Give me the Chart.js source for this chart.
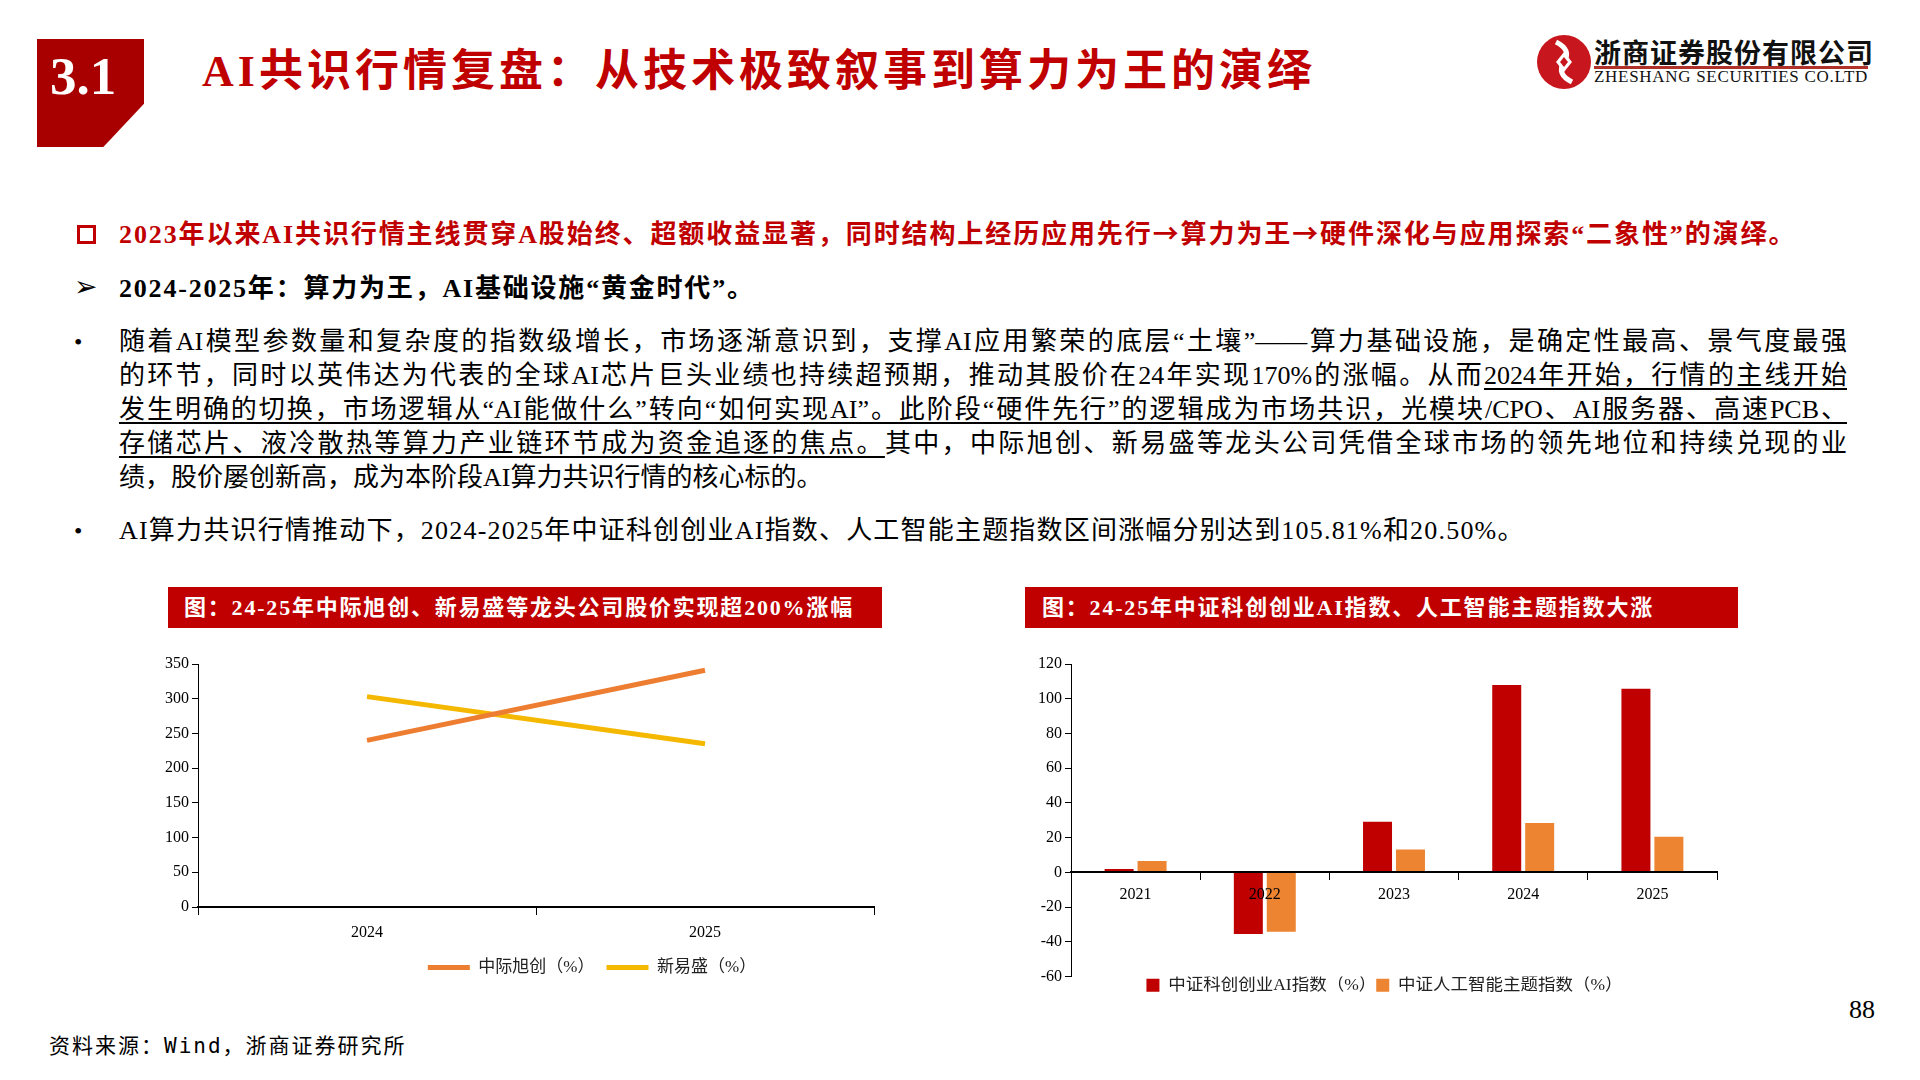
<!DOCTYPE html>
<html>
<head>
<meta charset="utf-8">
<script src="https://cdn.jsdelivr.net/npm/chart.js@4.4.1/dist/chart.umd.min.js"></script>
<style>
  body { margin: 0; background: #fff; }
  #page { position: relative; width: 1920px; height: 1080px; overflow: hidden; background: #fff;
          font-family: "Liberation Serif", "Noto Sans CJK SC", serif; color: #000; }
  .abs { position: absolute; white-space: nowrap; }
  #secBox { left: 37px; top: 39px; width: 107px; height: 108px; background: #A80000;
            clip-path: polygon(0 0, 100% 0, 100% 60%, 62% 100%, 0 100%); }
  #secNum { left: 37px; top: 46px; width: 92px; text-align: center; color: #fff; font-size: 53px; font-weight: bold; }
  #title { left: 202px; top: 35px; color: #C00000; font-size: 44px; font-weight: bold; letter-spacing: 4px; }
  #logoCn { left: 1594px; top: 32px; font-size: 27px; font-weight: bold; color: #111; letter-spacing: 1px; }
  #logoLine { left: 1594px; top: 66px; width: 274px; height: 3px; background: #B0302A; }
  #logoEn { left: 1594px; top: 67px; font-size: 17px; color: #111; letter-spacing: 0.7px; }
  .cjk { font-family: "Noto Sans CJK SC", sans-serif; }
  #l1 { left: 119px; top: 213px; font-size: 26px; color: #C00000; font-weight: bold; letter-spacing: 1.9px; }
  #chk { left: 77px; top: 225px; width: 13px; height: 13px; border: 3px solid #C00000; }
  #l2 { left: 119px; top: 267px; font-size: 26px; font-weight: bold; letter-spacing: 1.8px; }
  #arrow { left: 74px; top: 270px; font-size: 28px; font-family: "DejaVu Sans", sans-serif; }
  .dot { font-size: 24px; }
  #para { position: absolute; left: 119px; top: 325px; width: 1728px; font-size: 26px; line-height: 34px; }
  #para div { text-align: justify; text-align-last: justify; white-space: nowrap; }
  #para div.last { text-align-last: left; }
  #para u { text-decoration-thickness: 2px; text-underline-offset: 4px; }
  #l3 { left: 119px; top: 509px; font-size: 26px; letter-spacing: 1.2px; }
  .banner { position: absolute; top: 587px; height: 41px; background: #C00000; color: #fff;
            font-size: 22px; font-weight: bold; line-height: 41px; letter-spacing: 1.8px; white-space: nowrap; }
  #src { left: 49px; top: 1029px; font-size: 21px; letter-spacing: 2px;
         font-family: "DejaVu Sans Mono", "Noto Sans CJK SC", monospace; }
  #pg { left: 1849px; top: 995px; font-size: 26px; }
  canvas { position: absolute; }
</style>
</head>
<body>
<div id="page">
  <div class="abs" id="secBox"></div>
  <div class="abs" id="secNum">3.1</div>
  <div class="abs" id="title">AI共识行情复盘：从技术极致叙事到算力为王的演绎</div>

  <svg class="abs" style="left:1536px;top:34px" width="56" height="56" viewBox="0 0 56 56">
    <circle cx="28" cy="28" r="27" fill="#C8161E"/>
    <path d="M20 8 Q36 16 28 28 Q20 40 36 48" stroke="#fff" stroke-width="5" fill="none"/>
    <path d="M28 18 L36 28 L28 38 L20 28 Z" fill="#fff"/>
    <path d="M28 23 L32 28 L28 33 L24 28 Z" fill="#C8161E"/>
  </svg>
  <div class="abs" id="logoCn">浙商证券股份有限公司</div>
  <div class="abs" id="logoLine"></div>
  <div class="abs" id="logoEn">ZHESHANG SECURITIES CO.LTD</div>

  <div class="abs" id="chk"></div>
  <div class="abs" id="l1">2023年以来AI共识行情主线贯穿A股始终、超额收益显著，同时结构上经历应用先行<span class="cjk">→</span>算力为王<span class="cjk">→</span>硬件深化与应用探索“二象性”的演绎。</div>
  <div class="abs" id="arrow">➢</div>
  <div class="abs" id="l2">2024-2025年：算力为王，AI基础设施“黄金时代”。</div>

  <div class="abs dot" style="left:74px;top:329px">•</div>
  <div id="para">
    <div>随着AI模型参数量和复杂度的指数级增长，市场逐渐意识到，支撑AI应用繁荣的底层“土壤”——算力基础设施，是确定性最高、景气度最强</div>
    <div>的环节，同时以英伟达为代表的全球AI芯片巨头业绩也持续超预期，推动其股价在24年实现170%的涨幅。从而<u>2024年开始，行情的主线开始</u></div>
    <div><u>发生明确的切换，市场逻辑从“AI能做什么”转向“如何实现AI”。此阶段“硬件先行”的逻辑成为市场共识，光模块/CPO、AI服务器、高速PCB、</u></div>
    <div><u>存储芯片、液冷散热等算力产业链环节成为资金追逐的焦点。</u>其中，中际旭创、新易盛等龙头公司凭借全球市场的领先地位和持续兑现的业</div>
    <div class="last">绩，股价屡创新高，成为本阶段AI算力共识行情的核心标的。</div>
  </div>
  <div class="abs dot" style="left:74px;top:518px">•</div>
  <div class="abs" id="l3">AI算力共识行情推动下，2024-2025年中证科创创业AI指数、人工智能主题指数区间涨幅分别达到105.81%和20.50%。</div>

  <div class="banner" style="left:168px;width:714px;"><span style="padding-left:16px">图：24-25年中际旭创、新易盛等龙头公司股价实现超200%涨幅</span></div>
  <div class="banner" style="left:1025px;width:713px;"><span style="padding-left:17px">图：24-25年中证科创创业AI指数、人工智能主题指数大涨</span></div>

  <canvas id="chart1" width="760" height="340" style="left:150px;top:650px"></canvas>
  <canvas id="chart2" width="720" height="354" style="left:1020px;top:650px"></canvas>

  <div class="abs" id="src">资料来源：Wind，浙商证券研究所</div>
  <div class="abs" id="pg">88</div>
</div>

<script>
// 左图：龙头公司股价涨幅
const lineYears = ['2024', '2025'];
const zjxc = [240, 341];   // 中际旭创（%）
const xys = [303, 235];    // 新易盛（%）
const lineYMin = 0, lineYMax = 350, lineStep = 50;

// 右图：指数涨幅
const barYears = ['2021', '2022', '2023', '2024', '2025'];
const kcAI = [1.9, -35.5, 29.2, 107.9, 105.81];  // 中证科创创业AI指数（%）
const rgzn = [6.5, -34.2, 13.1, 28.4, 20.50];    // 中证人工智能主题指数（%）
const barYMin = -60, barYMax = 120, barStep = 20;

const tickFont = { family: '"Liberation Serif", "Noto Sans CJK SC"', size: 16 };

// 图例整体右移（原图图例不在画布正中）
const legendShift = {
  id: 'legendShift',
  afterLayout(chart, args, opts) {
    chart.legend.left += opts.dx;
    chart.legend.right += opts.dx;
  }
};

new Chart(document.getElementById('chart1').getContext('2d'), {
  type: 'line',
  data: {
    labels: lineYears,
    datasets: [
      { label: '中际旭创（%）', data: zjxc, borderColor: '#ED7D31', backgroundColor: '#ED7D31',
        borderWidth: 5, pointRadius: 0, tension: 0 },
      { label: '新易盛（%）', data: xys, borderColor: '#F5B800', backgroundColor: '#F5B800',
        borderWidth: 5, pointRadius: 0, tension: 0 }
    ]
  },
  plugins: [legendShift],
  options: {
    responsive: false,
    animation: false,
    layout: { padding: { top: 14, right: 36, left: 0, bottom: 4 } },
    plugins: {
      legendShift: { dx: 80 },
      legend: {
        position: 'bottom',
        labels: { usePointStyle: true, pointStyle: 'line', pointStyleWidth: 42, boxHeight: 8,
                  font: { family: '"Liberation Serif", "Noto Sans CJK SC"', size: 17 }, color: '#222', padding: 12 }
      },
      tooltip: { enabled: false }
    },
    scales: {
      x: {
        offset: true,
        grid: { display: true, offset: true, drawOnChartArea: false, drawTicks: true, tickLength: 8, color: '#000' },
        border: { display: true, color: '#000', width: 2 },
        ticks: { font: tickFont, color: '#000', padding: 8 },
        afterFit: s => { s.height = 40; }
      },
      y: {
        min: lineYMin, max: lineYMax,
        grid: { display: true, drawOnChartArea: false, drawTicks: true, tickLength: 6, color: '#000' },
        border: { display: true, color: '#000', width: 1 },
        ticks: { stepSize: lineStep, font: tickFont, color: '#000', padding: 3 },
        afterFit: s => { s.width = 48; }
      }
    }
  }
});

new Chart(document.getElementById('chart2').getContext('2d'), {
  type: 'bar',
  data: {
    labels: barYears,
    datasets: [
      { label: '中证科创创业AI指数（%）', data: kcAI, backgroundColor: '#C00000', borderWidth: 0,
        categoryPercentage: 0.51, barPercentage: 0.88 },
      { label: '中证人工智能主题指数（%）', data: rgzn, backgroundColor: '#ED8432', borderWidth: 0,
        categoryPercentage: 0.51, barPercentage: 0.88 }
    ]
  },
  plugins: [legendShift],
  options: {
    responsive: false,
    animation: false,
    layout: { padding: { top: 14, right: 23, left: 0, bottom: 0 } },
    plugins: {
      legendShift: { dx: 16 },
      legend: {
        position: 'bottom',
        labels: { boxWidth: 13, boxHeight: 13, font: { family: '"Liberation Serif", "Noto Sans CJK SC"', size: 17.5 },
                  color: '#222', padding: 0 }
      },
      tooltip: { enabled: false }
    },
    scales: {
      x: {
        position: { y: 0 },
        grid: { display: true, offset: true, drawOnChartArea: false, drawTicks: true, tickLength: 7, color: '#000', z: 1 },
        border: { display: true, color: '#000', width: 2, z: 1 },
        ticks: { font: tickFont, color: '#000', padding: 6, z: 1 }
      },
      y: {
        min: barYMin, max: barYMax,
        grid: { display: true, drawOnChartArea: false, drawTicks: true, tickLength: 6, color: '#000' },
        border: { display: true, color: '#000', width: 1 },
        ticks: { stepSize: barStep, font: tickFont, color: '#000', padding: 3 },
        afterFit: s => { s.width = 51; }
      }
    }
  }
});
</script>
</body>
</html>
